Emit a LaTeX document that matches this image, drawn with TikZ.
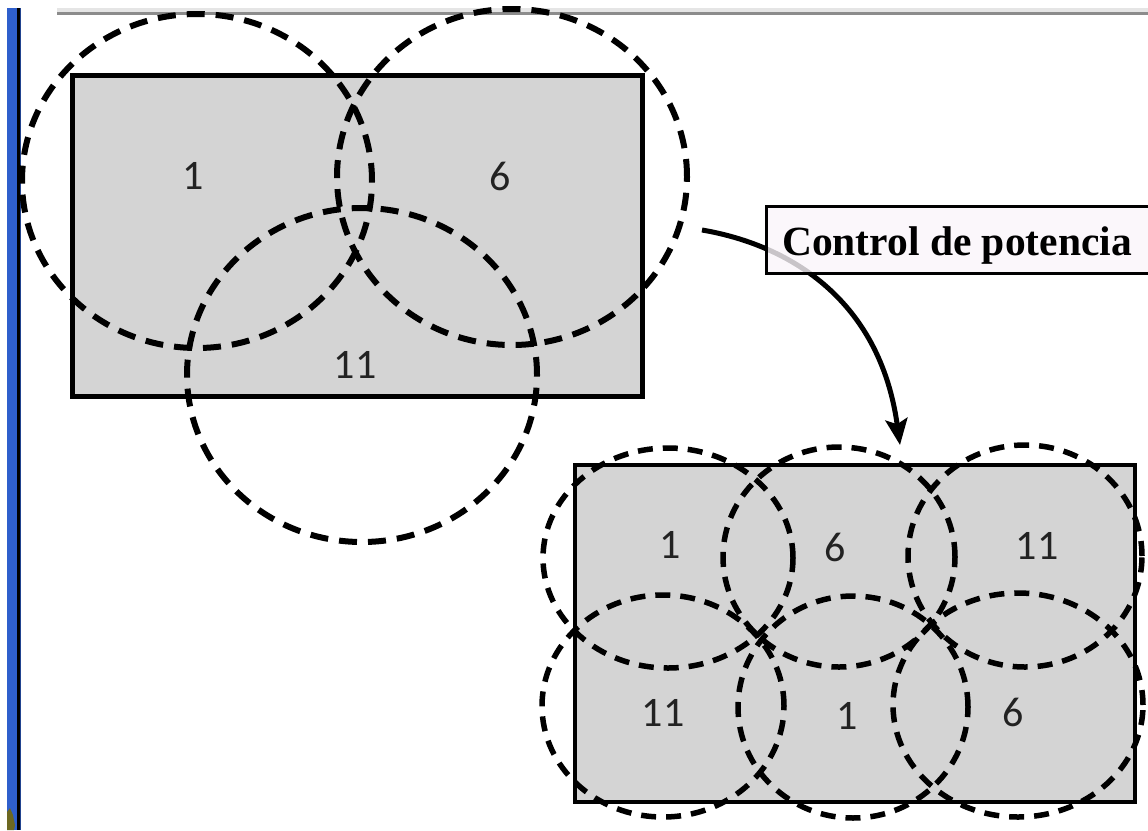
\documentclass[tikz,border=0pt]{standalone}
\usepackage{fontspec}
\usetikzlibrary{arrows.meta}
\newfontfamily\numfont{Carlito}
\newfontfamily\titlefont{Liberation Serif}
\definecolor{barblue}{HTML}{2F5FCC}
\definecolor{cellgray}{HTML}{D4D4D4}
\definecolor{boxfill}{HTML}{FBF6FB}
\definecolor{rulegray}{HTML}{8C8C8C}
\definecolor{inkgray}{HTML}{222222}
\begin{document}
\begin{tikzpicture}[x=1pt,y=-1pt,
  cell/.style={fill=cellgray,draw=black},
  zone/.style={draw=black,line width=6pt,dash pattern=on 18pt off 11pt},
  smallzone/.style={draw=black,line width=5.5pt,dash pattern=on 15pt off 10pt},
  num/.style={font=\numfont\fontsize{42}{44}\selectfont,text=inkgray,inner sep=0pt},
  flow/.style={line width=5pt,-{Stealth[length=26pt,width=22pt,inset=5pt]}},
  titlebox/.style={draw=black,line width=3pt,fill=boxfill,fill opacity=0.8,
    draw opacity=1,inner sep=0pt,anchor=north west},
  titletext/.style={font=\titlefont\bfseries\fontsize{41.5}{48}\selectfont,
    inner sep=0pt,anchor=base west}]
\useasboundingbox (0,0) rectangle (1148,830);
\fill[white] (0,0) rectangle (1148,830);

% window frame: blue side bar and top rule
\fill[barblue] (7,8) rectangle (17,830);
\fill[black] (17,8) rectangle (20,830);
\fill[barblue!70!black] (20,8) rectangle (21,830);
\fill[olive!70!black] (7,812) -- (10,808) -- (13,815) -- (15,825) -- (14,830) -- (7,830) -- cycle;
\fill[gray!20] (57,8) rectangle (1148,12);
\fill[rulegray] (57,12) rectangle (1148,14.5);

% first layout: three large cells
\draw[cell,line width=5pt] (72,75) rectangle (642,396);
\draw[zone] (197,181) ellipse [x radius=175pt,y radius=167pt];
\draw[zone] (512,177) ellipse [x radius=175pt,y radius=168pt];
\draw[zone] (362,375) ellipse [x radius=175pt,y radius=167pt];
\node[num] (a1) at (193,176) {1};
\node[num] (a6) at (500,176) {6};
\node[num] (a11) at (355,365) {11};

% power control arrow and its label
\coordinate (arrowstart) at (702,230);
\coordinate (arrowend) at (900,445);
\draw[flow] (arrowstart) .. controls (790,245) and (880,300) .. (arrowend);
\node[titlebox,minimum width=400pt,minimum height=67pt] (title) at (765,205) {};
\node[titletext] (titlelabel) at (782,255) {Control de potencia};

% second layout: six smaller cells
\draw[cell,line width=4.5pt] (575,465) rectangle (1135,802);
\draw[smallzone] (668,558) ellipse [x radius=125pt,y radius=110pt];
\draw[smallzone] (839,557) ellipse [x radius=116pt,y radius=110pt];
\draw[smallzone] (1025,556) ellipse [x radius=117pt,y radius=111pt];
\draw[smallzone] (663,706) ellipse [x radius=121pt,y radius=111pt];
\draw[smallzone] (853,707) ellipse [x radius=115pt,y radius=111pt];
\draw[smallzone] (1018,705) ellipse [x radius=125pt,y radius=112pt];
\node[num] (b1) at (670,545) {1};
\node[num] (b6) at (835,547) {6};
\node[num] (b11) at (1037,546) {11};
\node[num] (c11) at (663,713) {11};
\node[num] (c1) at (847,716) {1};
\node[num] (c6) at (1013,712) {6};
\end{tikzpicture}
\end{document}
